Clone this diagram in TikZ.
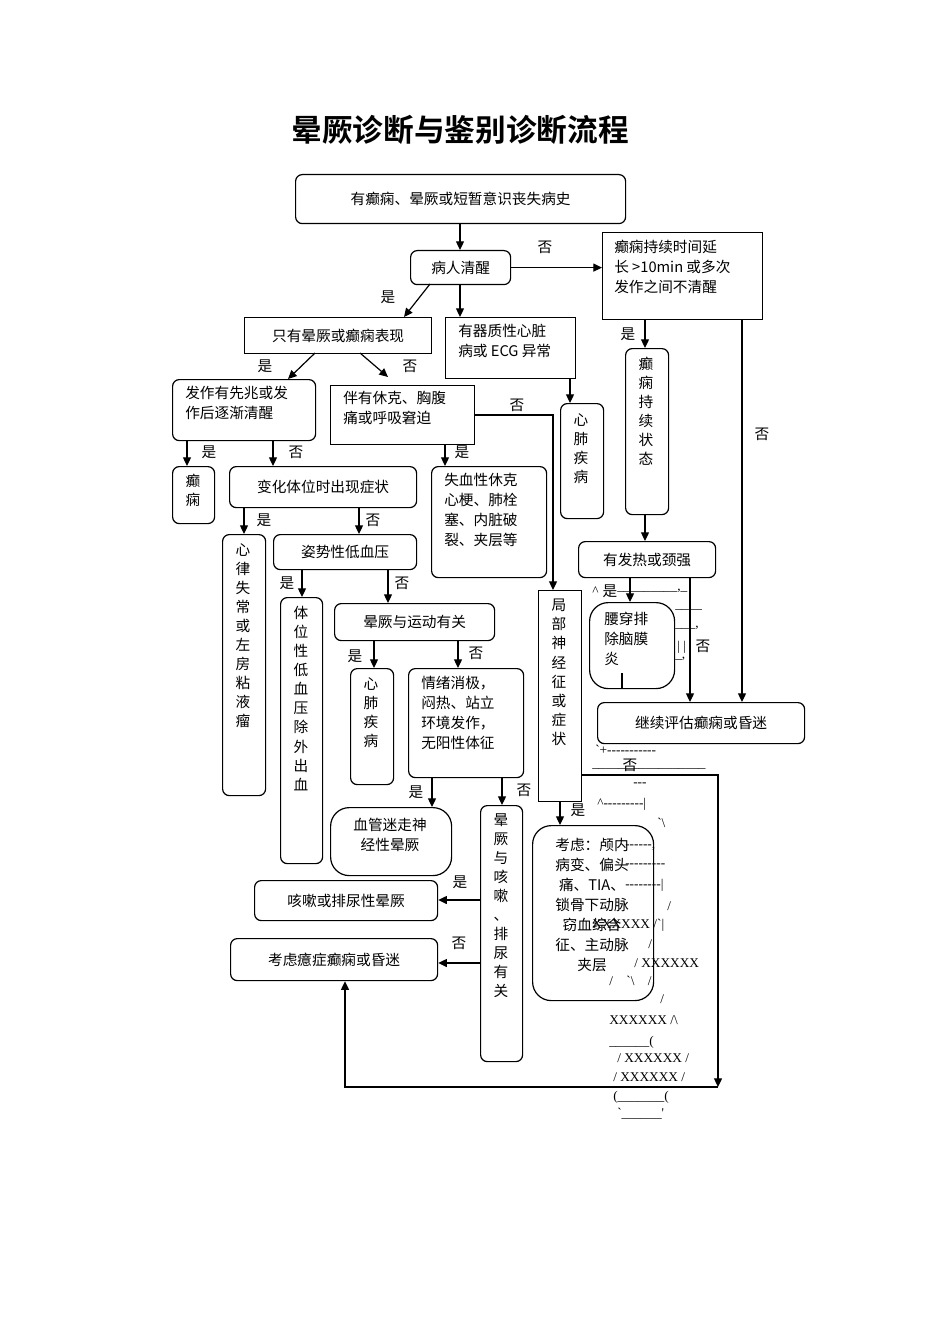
\documentclass[tikz,border=0pt]{standalone}
\usepackage{fontspec}
\setmainfont{Noto Sans CJK SC}[BoldFont={Noto Sans CJK SC Bold}]
\newfontfamily\junkf{Liberation Serif}
\usetikzlibrary{arrows.meta,calc}
\newcommand\bx[6][]{\node[box,#1,anchor=north west,minimum width={(#5-#3)*0.75pt},minimum height={(#6-#4)*0.75pt}] (#2) at (#3,#4) {};}
\begin{document}
\begin{tikzpicture}[x=0.75pt,y=-0.75pt,
  box/.style={draw,line width=0.9pt,inner sep=0pt},
  rb/.style={rounded corners=5pt},
  rbb/.style={rounded corners=14pt},
  txt/.style={font=\fontsize{11}{15}\selectfont,inner sep=0pt,align=left},
  vt/.style={font=\fontsize{11}{14.3}\selectfont,inner sep=0pt,align=center,anchor=north},
  lb/.style={font=\fontsize{11}{13}\selectfont,inner sep=0pt},
  jk/.style={font=\junkf\fontsize{10}{11}\selectfont,inner sep=0pt,anchor=west},
  arr/.style={line width=0.9pt,-{Triangle[length=6.5pt,width=6pt]}},
  ln/.style={line width=0.9pt}]
\useasboundingbox (0,0) rectangle (950,1344);
\foreach \c in {187,244,273,302,345,359,374,388,432,445,458,460,502,553,560,570,630,645,690,718,742}{\coordinate (c\c) at (\c,0);}
\foreach \r in {267,415,775,900,963,1087}{\coordinate (r\r) at (0,\r);}
\node[font=\fontsize{23}{26}\selectfont\bfseries] (title) at (460,130) {晕厥诊断与鉴别诊断流程};
% boxes
\bx[rb]{top}{295}{174}{625}{223}
\node[txt] (top-t) at (top) {有癫痫、晕厥或短暂意识丧失病史};
\bx[rb]{qx}{410}{250}{510}{284}
\node[txt] (qx-t) at (qx) {病人清醒};
\bx{rbox}{602}{232}{762}{319}
\node[txt,anchor=north west] (rbox-t) at (614,240) {癫痫持续时间延\\长 >10min 或多次\\发作之间不清醒};
\bx{only}{244}{317}{431}{353}
\node[txt] (only-t) at (only) {只有晕厥或癫痫表现};
\bx{heart}{445}{317}{575}{378}
\node[txt,anchor=north west] (heart-t) at (458,324) {有器质性心脏\\病或 ECG 异常};
\bx[rb]{aura}{172}{379}{315}{440}
\node[txt,anchor=north west] (aura-t) at (185,386) {发作有先兆或发\\作后逐渐清醒};
\bx{shock}{330}{385}{474}{444}
\node[txt,anchor=north west] (shock-t) at (343,391) {伴有休克、胸腹\\痛或呼吸窘迫};
\bx[rb]{cp1}{560}{403}{603}{518}
\node[vt] (cp1-t) at (581,413) {心\\肺\\疾\\病};
\bx[rb]{se}{625}{348}{668}{514}
\node[vt] (se-t) at (646,357) {癫\\痫\\持\\续\\状\\态};
\bx[rb]{ep}{172}{466}{214}{523}
\node[vt] (ep-t) at (193,474) {癫\\痫};
\bx[rb]{pos}{229}{466}{416}{507}
\node[txt] (pos-t) at (pos) {变化体位时出现症状};
\bx[rb]{blood}{431}{466}{546}{577}
\node[txt,anchor=north west] (blood-t) at (444,473) {失血性休克\\心梗、肺栓\\塞、内脏破\\裂、夹层等};
\bx[rb]{arr}{222}{534}{265}{795}
\node[vt] (arr-t) at (243,543) {心\\律\\失\\常\\或\\左\\房\\粘\\液\\瘤};
\bx[rb]{ortho}{273}{534}{416}{569}
\node[txt] (ortho-t) at (ortho) {姿势性低血压};
\bx[rb]{fever}{578}{541}{715}{577}
\node[txt] (fever-t) at (fever) {有发热或颈强};
\bx[rb]{posl}{280}{597}{322}{863}
\node[vt] (posl-t) at (301,606) {体\\位\\性\\低\\血\\压\\除\\外\\出\\血};
\bx[rb]{exer}{334}{603}{494}{640}
\node[txt] (exer-t) at (exer) {晕厥与运动有关};
\bx{focal}{538}{590}{581}{801}
\node[vt] (focal-t) at (559,599) {局\\部\\神\\经\\征\\或\\症\\状};
\bx[rbb]{lp}{589}{602}{674}{688}
\node[txt,anchor=north west] (lp-t) at (604,612) {腰穿排\\除脑膜\\炎};
\bx[rb]{cont}{597}{702}{804}{743}
\node[txt] (cont-t) at (cont) {继续评估癫痫或昏迷};
\bx[rb]{cp2}{350}{668}{393}{784}
\node[vt] (cp2-t) at (371,677) {心\\肺\\疾\\病};
\bx[rb]{emo}{408}{668}{523}{777}
\node[txt,anchor=north west] (emo-t) at (421,676) {情绪消极，\\闷热、站立\\环境发作，\\无阳性体征};
\bx[rbb]{vaso}{330}{807}{451}{875}
\node[txt,align=center] (vaso-t) at (390,835) {血管迷走神\\经性晕厥};
\bx[rb]{cough}{480}{805}{522}{1061}
\node[vt] (cough-t) at (501,813) {晕\\厥\\与\\咳\\嗽\\、\\排\\尿\\有\\关};
\bx[rbb]{intra}{532}{825}{653}{1000}
\node[txt,align=center] (intra-t) at (592,905) {考虑：颅内\\病变、偏头\\痛、TIA、\\锁骨下动脉\\窃血综合\\征、主动脉\\夹层};
\bx[rb]{cs}{254}{880}{437}{920}
\node[txt] (cs-t) at (cs) {咳嗽或排尿性晕厥};
\bx[rb]{hys}{230}{938}{437}{980}
\node[txt] (hys-t) at (hys) {考虑癔症癫痫或昏迷};
% connectors
\draw[arr] (top.south -| c460) -- (qx.north -| c460);
\draw[arr] (qx.east) -- (rbox.west |- qx.east);
\node[lb] at (545,247) {否};
\coordinate (q1) at (430,284); \coordinate (o1) at (404,317);
\draw[arr] (q1) -- (o1);
\node[lb] at (388,297) {是};
\draw[arr] (qx.south -| c460) -- (heart.north -| c460);
\coordinate (o2) at (315,353); \coordinate (a1) at (288,379);
\draw[arr] (o2) -- (a1);
\node[lb] at (265,366) {是};
\coordinate (o3) at (360,353); \coordinate (s1) at (388,377);
\draw[arr] (o3) -- (s1);
\node[lb] at (410,366) {否};
\draw[arr] (heart.south -| c570) -- (cp1.north -| c570);
\draw[arr] (shock.east |- r415) -| (focal.north -| c553);
\node[lb] at (517,405) {否};
\draw[arr] (rbox.south -| c645) -- (se.north -| c645);
\node[lb] at (628,334) {是};
\draw[arr] (rbox.south -| c742) -- (cont.north -| c742);
\node[lb] at (762,434) {否};
\draw[arr] (aura.south -| c187) -- (ep.north -| c187);
\node[lb] at (209,452) {是};
\draw[arr] (aura.south -| c273) -- (pos.north -| c273);
\node[lb] at (296,452) {否};
\draw[arr] (shock.south -| c445) -- (blood.north -| c445);
\node[lb] at (462,452) {是};
\draw[arr] (pos.south -| c244) -- (arr.north -| c244);
\node[lb] at (264,520) {是};
\draw[arr] (pos.south -| c359) -- (ortho.north -| c359);
\node[lb] at (373,520) {否};
\draw[arr] (se.south -| c645) -- (fever.north -| c645);
\draw[arr] (fever.south -| c630) -- (lp.north -| c630);
\draw[arr] (fever.south -| c690) -- (cont.north -| c690);
\node[lb] at (703,646) {否};
\draw[arr] (ortho.south -| c302) -- (posl.north -| c302);
\node[lb] at (287,583) {是};
\draw[arr] (ortho.south -| c388) -- (exer.north -| c388);
\node[lb] at (402,583) {否};
\draw[arr] (exer.south -| c374) -- (cp2.north -| c374);
\node[lb] at (355,656) {是};
\draw[arr] (exer.south -| c458) -- (emo.north -| c458);
\node[lb] at (476,653) {否};
\draw[arr] (emo.south -| c432) -- (vaso.north -| c432);
\node[lb] at (416,792) {是};
\draw[arr] (emo.south -| c502) -- (cough.north -| c502);
\node[lb] at (524,790) {否};
\draw[arr] (focal.south -| c560) -- (intra.north -| c560);
\node[lb] at (578,810) {是};
\coordinate (bend) at (718,1087);
\draw[arr] (focal.east |- r775) -| (bend);
\draw[arr] (bend) -| (hys.south -| c345);
\node[lb] at (630,765) {否};
\draw[arr] (cough.west |- r900) -- (cs.east |- r900);
\node[lb] at (460,882) {是};
\draw[arr] (cough.west |- r963) -- (hys.east |- r963);
\node[lb] at (459,943) {否};
% stray characters printed in the reference
\draw[ln] (622,673) -- (622,688);
\node[lb] at (610,591) {是};
\node[jk] at (592,591) {\^{}};
\node[jk] at (617,591) {\_\_\_\_\_\_\_\_\_,\_};
\node[jk] at (675,609) {\_\_\_\_};
\node[jk] at (675,628) {\_\_\_,};
\node[jk] at (677,647) {| |};
\node[jk] at (675,659) {\_,};
\node[jk] at (595,750) {`+-----------};
\node[jk] at (592,768) {\_\_\_\_\_\_\_\_\_\_\_\_\_\_\_\_\_};
\node[jk] at (633,785) {---};
\node[jk] at (597,804) {\^{}---------|};
\node[jk] at (657,823) {`\textbackslash};
\node[jk] at (625,848) {------,};
\node[jk] at (625,866) {---------};
\node[jk] at (625,885) {--------|};
\node[jk] at (667,906) {/};
\node[jk] at (592,925) {XXXXXX /`|};
\node[jk] at (648,944) {/};
\node[jk] at (634,963) {/ XXXXXX};
\node[jk] at (609,981) {/ \ \ \ `\textbackslash\ \ \ \ /};
\node[jk] at (660,999) {/};
\node[jk] at (609,1020) {XXXXXX /\textbackslash};
\node[jk] at (609,1042) {\_\_\_\_\_\_(};
\node[jk] at (617,1058) {/ XXXXXX /};
\node[jk] at (613,1077) {/ XXXXXX /};
\node[jk] at (613,1097) {(\_\_\_\_\_\_\_(};
\node[jk] at (617,1114) {`\_\_\_\_\_\_'};
\end{tikzpicture}
\end{document}
